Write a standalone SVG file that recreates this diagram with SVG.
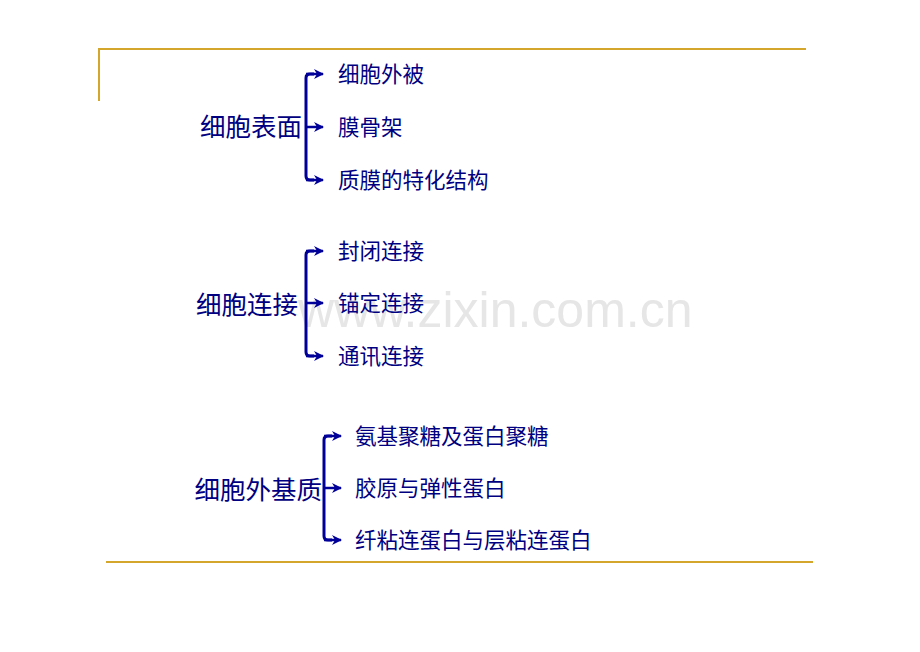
<svg xmlns="http://www.w3.org/2000/svg" width="920" height="652" viewBox="0 0 920 652">
<style>
.rule{stroke:#D4A72C;stroke-width:2;fill:none}
.br{stroke:#000099;stroke-width:3;fill:none}
.tick{stroke:#000099;stroke-width:2.5;fill:none}
.main{font-family:"Noto Sans CJK SC","Noto Sans CJK JP",sans-serif;font-size:25.5px;fill:#000080}
.item{font-family:"Noto Sans CJK SC","Noto Sans CJK JP",sans-serif;font-size:21.5px;fill:#000080}
.wm{font-family:"Liberation Sans",Arial,sans-serif;font-size:50px;fill:#e6e6e6}
</style>
<defs>
<marker id="ah" viewBox="0 0 10 10" refX="9" refY="5" markerWidth="4" markerHeight="4" orient="auto" markerUnits="strokeWidth">
<path d="M0,0 L10,5 L0,10 L3,5 Z" fill="#000099"/>
</marker>
</defs>
<rect width="920" height="652" fill="#ffffff"/>
<text class="wm" x="298" y="327">www.zixin.com.cn</text>
<g id="frame">
<path class="rule" d="M99,101 V49 H806"/>
<line class="rule" x1="106" y1="562" x2="813" y2="562"/>
</g>
<g id="connectors">
<path class="br" d="M314,74 H310 Q306,74 306,78 V176 Q306,180 310,180 H314"/>
<line class="tick" x1="306" y1="74" x2="323" y2="74" marker-end="url(#ah)"/>
<line class="tick" x1="306" y1="127" x2="323" y2="127" marker-end="url(#ah)"/>
<line class="tick" x1="306" y1="180" x2="323" y2="180" marker-end="url(#ah)"/>
<path class="br" d="M314,251 H310 Q306,251 306,255 V352 Q306,356 310,356 H314"/>
<line class="tick" x1="306" y1="251" x2="323" y2="251" marker-end="url(#ah)"/>
<line class="tick" x1="306" y1="303" x2="323" y2="303" marker-end="url(#ah)"/>
<line class="tick" x1="306" y1="356" x2="323" y2="356" marker-end="url(#ah)"/>
<path class="br" d="M332,436 H328 Q324,436 324,440 V536 Q324,540 328,540 H332"/>
<line class="tick" x1="324" y1="436" x2="341" y2="436" marker-end="url(#ah)"/>
<line class="tick" x1="324" y1="488" x2="341" y2="488" marker-end="url(#ah)"/>
<line class="tick" x1="324" y1="540" x2="341" y2="540" marker-end="url(#ah)"/>
</g>
<g id="group1">
<text class="main" x="302" y="136" text-anchor="end">细胞表面</text>
<text class="item" x="338" y="81.5">细胞外被</text>
<text class="item" x="338" y="134.5">膜骨架</text>
<text class="item" x="338" y="187.5">质膜的特化结构</text>
</g>
<g id="group2">
<text class="main" x="298" y="314" text-anchor="end">细胞连接</text>
<text class="item" x="338" y="258.5">封闭连接</text>
<text class="item" x="338" y="310.5">锚定连接</text>
<text class="item" x="338" y="363.5">通讯连接</text>
</g>
<g id="group3">
<text class="main" x="322" y="499" text-anchor="end">细胞外基质</text>
<text class="item" x="355" y="443.5">氨基聚糖及蛋白聚糖</text>
<text class="item" x="355" y="495.5">胶原与弹性蛋白</text>
<text class="item" x="355" y="547.5">纤粘连蛋白与层粘连蛋白</text>
</g>
</svg>
